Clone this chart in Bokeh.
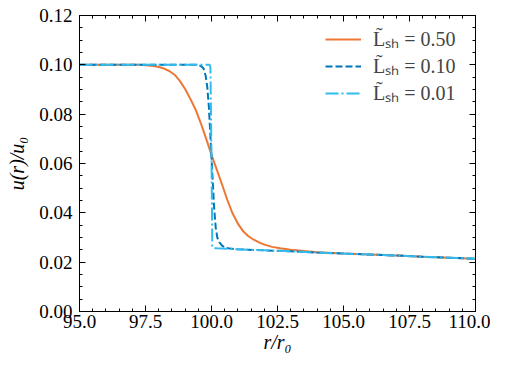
from bokeh.plotting import figure
from bokeh.models import (Range1d, FixedTicker, PrintfTickFormatter, LinearAxis, Legend,
                          LegendItem, CustomLabelingPolicy)
from bokeh.embed import file_html
from bokeh.resources import INLINE

# --- data ---
r_050 = [95.0, 96.0, 96.5, 97.0, 97.3, 97.6, 97.8, 98.0, 98.2, 98.4, 98.6, 98.8, 99.0,
         99.2, 99.4, 99.6, 99.8, 100.0, 100.2, 100.4, 100.6, 100.8, 101.0, 101.2, 101.4,
         101.6, 101.8, 102.0, 102.3, 102.6, 103.0, 103.5, 104.0, 105.0, 106.0, 107.0,
         108.0, 109.0, 110.0]
u_050 = [0.1000, 0.1000, 0.1000, 0.1000, 0.1000, 0.0997, 0.0995, 0.0991, 0.0985, 0.0975,
         0.0960, 0.0935, 0.0902, 0.0862, 0.0818, 0.0762, 0.0700, 0.0635, 0.0575, 0.0515,
         0.0452, 0.0397, 0.0356, 0.0325, 0.0305, 0.0291, 0.0280, 0.0271, 0.0262, 0.0256,
         0.0250, 0.0245, 0.0240, 0.0235, 0.0231, 0.0227, 0.0222, 0.0218, 0.0214]

r_010 = [95.0, 99.0, 99.5, 99.6, 99.7, 99.78, 99.84, 99.9, 99.95, 100.0, 100.05, 100.1,
         100.16, 100.22, 100.3, 100.4, 100.5, 100.7, 101.0, 102.0, 103.0, 104.0, 105.0,
         106.0, 107.0, 108.0, 109.0, 110.0]
u_010 = [0.1000, 0.1000, 0.1000, 0.0995, 0.0985, 0.0955, 0.0910, 0.0830, 0.0730, 0.0625,
         0.0520, 0.0420, 0.0340, 0.0300, 0.0280, 0.0267, 0.0260, 0.0255, 0.0252, 0.0248,
         0.0244, 0.0239, 0.0235, 0.0231, 0.0227, 0.0222, 0.0218, 0.0214]

r_001 = [95.0, 99.9, 99.93, 99.96, 100.0, 100.03, 100.06, 100.2, 101.0, 102.0, 103.0,
         104.0, 105.0, 106.0, 107.0, 108.0, 109.0, 110.0]
u_001 = [0.1000, 0.1000, 0.1000, 0.0990, 0.0625, 0.0265, 0.0257, 0.0256, 0.0252, 0.0248,
         0.0244, 0.0239, 0.0235, 0.0231, 0.0227, 0.0222, 0.0218, 0.0214]

series_labels = ["L\u0303\u209b\u2095 = 0.50", "L\u0303\u209b\u2095 = 0.10", "L\u0303\u209b\u2095 = 0.01"]
series_colors = ["#EE7733", "#0077BB", "#33BBEE"]

x_ticks = [95.0, 97.5, 100.0, 102.5, 105.0, 107.5, 110.0]
y_ticks = [0.00, 0.02, 0.04, 0.06, 0.08, 0.10, 0.12]
x_label = "r/r\u2080"
y_label = "u(r)/u\u2080"

FONT = "Liberation Serif"

x_minor = [95.0 + 0.5 * i for i in range(31)]
y_minor = [0.005 * i for i in range(25)]

p = figure(width=490, height=355, output_backend="svg", toolbar_location=None,
           x_range=Range1d(95, 110), y_range=Range1d(0, 0.12),
           min_border_left=79, min_border_right=15, min_border_top=15, min_border_bottom=43)
p.background_fill_color = "white"
p.border_fill_color = "white"
p.outline_line_color = "black"
p.outline_line_width = 1
p.xgrid.visible = False
p.ygrid.visible = False

l1 = p.line(r_050, u_050, line_color=series_colors[0], line_width=2)
l2 = p.line(r_010, u_010, line_color=series_colors[1], line_width=2, line_dash="7 3")
l3 = p.line(r_001, u_001, line_color=series_colors[2], line_width=2, line_dash="13 3 2 3")

HIDE = "for (const i of indices) { indices.unset(i) }\nreturn indices"

def style_axis(ax, show_labels, is_x):
    ax.ticker = FixedTicker(ticks=x_ticks if is_x else y_ticks,
                            minor_ticks=x_minor if is_x else y_minor)
    ax.formatter = PrintfTickFormatter(format="%.1f" if is_x else "%.2f")
    ax.major_tick_in = 6
    ax.major_tick_out = 0
    ax.minor_tick_in = 3
    ax.minor_tick_out = 0
    ax.axis_line_color = "black"
    ax.major_tick_line_color = "black"
    ax.minor_tick_line_color = "black"
    ax.major_label_text_font = FONT
    ax.major_label_text_font_size = "19px" if show_labels else "1px"
    ax.major_label_text_color = "black"
    ax.axis_label_text_font = FONT
    ax.axis_label_text_font_size = "20px"
    ax.axis_label_text_font_style = "italic"
    ax.axis_label_text_color = "black"
    if not show_labels:
        ax.major_label_standoff = 0
        ax.major_label_policy = CustomLabelingPolicy(code=HIDE)

style_axis(p.xaxis[0], True, True)
style_axis(p.yaxis[0], True, False)
p.xaxis[0].axis_label = x_label
p.yaxis[0].axis_label = y_label
p.xaxis[0].major_label_standoff = 3
p.yaxis[0].major_label_standoff = 7
p.xaxis[0].axis_label_standoff = 0
p.yaxis[0].axis_label_standoff = 8

top = LinearAxis()
right = LinearAxis()
style_axis(top, False, True)
style_axis(right, False, False)
p.add_layout(top, "above")
p.add_layout(right, "right")

legend = Legend(items=[LegendItem(label=series_labels[0], renderers=[l1]),
                       LegendItem(label=series_labels[1], renderers=[l2]),
                       LegendItem(label=series_labels[2], renderers=[l3])],
                location="top_right", margin=8, padding=2, spacing=0,
                glyph_width=36, glyph_height=24, label_height=24, label_width=92,
                label_standoff=12,
                label_text_font=FONT, label_text_font_size="20px",
                border_line_alpha=0, background_fill_alpha=0)
p.add_layout(legend)

open("out.html", "w").write(file_html(p, INLINE))
